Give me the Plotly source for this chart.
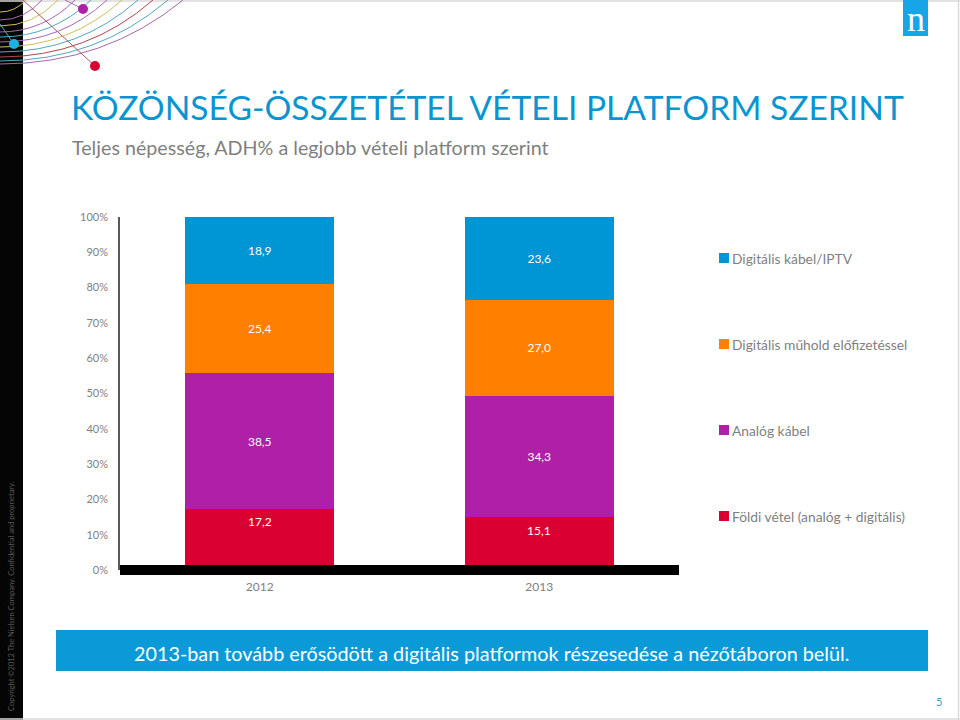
import plotly.graph_objects as go

YEARS = ["2012", "2013"]
FOLDI = [17.2, 15.1]
ANALOG = [38.5, 34.3]
MUHOLD = [25.4, 27.0]
KABEL = [18.9, 23.6]
FOLDI_LABEL_Y = [13.6, 11.1]
TICKS = [0, 10, 20, 30, 40, 50, 60, 70, 80, 90, 100]
NAMES = ["Földi vétel (analóg + digitális)", "Analóg kábel",
         "Digitális műhold előfizetéssel", "Digitális kábel/IPTV"]
COLORS = ["#DB0032", "#B01FA8", "#FF8000", "#0095D4"]

W, H = 960, 720
GREY = "#7F7F7F"
FONT = "Lato"


def px(x):
    return x / W


def py(y):
    return 1 - y / H


def rect(x0, y0, x1, y1, color, layer="below"):
    return dict(type="rect", xref="paper", yref="paper", x0=px(x0), x1=px(x1),
                y0=py(y1), y1=py(y0), fillcolor=color, line_width=0, layer=layer)


def seg(x0, y0, x1, y1, color, width=1):
    return dict(type="line", xref="paper", yref="paper", x0=px(x0), x1=px(x1),
                y0=py(y0), y1=py(y1), line=dict(color=color, width=width), layer="below")


def arc(x_top, y_left, color):
    cx = x_top * 0.575
    path = (f"M {px(0):.5f} {py(y_left):.5f} Q {px(cx):.5f} {py(y_left):.5f} "
            f"{px(x_top):.5f} {py(0):.5f}")
    return dict(type="path", xref="paper", yref="paper", path=path,
                line=dict(color=color, width=1), layer="below")


def dot(x, y, r, color):
    return dict(type="circle", xref="paper", yref="paper", x0=px(x - r), x1=px(x + r),
                y0=py(y + r), y1=py(y - r), fillcolor=color, line_width=0, layer="below")


def text(x, y, s, size, color, anchor="left", **kw):
    return dict(xref="paper", yref="paper", x=px(x), y=py(y), text=s, showarrow=False,
                xanchor=anchor, yanchor="middle", align=anchor,
                font=dict(family=FONT, size=size, color=color), **kw)


fig = go.Figure()
series = [FOLDI, ANALOG, MUHOLD, KABEL]
for i, (name, vals, col) in enumerate(zip(NAMES, series, COLORS)):
    fig.add_bar(x=YEARS, y=vals, name=name, marker=dict(color=col, line_width=0),
                width=0.533, showlegend=False,
                texttemplate="" if i == 0 else "%{y:.1f}",
                textposition="none" if i == 0 else "inside",
                insidetextanchor="middle", textangle=0, constraintext="none",
                insidetextfont=dict(family=FONT, size=12, color="#FFFFFF"),
                hoverinfo="x+y+name")

ARCS = [(183, 64, "#A566B0"), (168, 61, "#4FA8C0"), (153, 57, "#B0444F"),
        (138, 52, "#4FA8C0"), (122, 47, "#CDBE5A"), (107, 42, "#A566B0"),
        (91, 37, "#4FA8C0"), (75, 32, "#A566B0"), (58, 26, "#CDBE5A"),
        (42, 20, "#A566B0"), (26, 12, "#CDBE5A")]

shapes = [
    rect(0, 0, 23, H, "#050505"),
    seg(0, 1, W, 1, "#D9D9D9", 1.5),
    seg(958.5, 0, 958.5, H, "#D9D9D9", 1.5),
    seg(0, 719, W, 719, "#D9D9D9", 1.5),
]
shapes += [arc(x, y, c) for x, y, c in ARCS]
shapes += [
    seg(23, 0, 95, 66, "#A8555F"),
    seg(65, 0, 83, 9, "#A566B0"),
    seg(0, 24, 14, 44, "#4FA8C0"),
    dot(14, 44, 5, "#1FB0EC"),
    dot(83, 9, 5, "#B01FA8"),
    dot(95, 66, 5, "#DB0032"),
    rect(903, 0, 928, 36, "#16A5E6"),
    rect(56, 630, 928, 671, "#0A9AD8"),
    rect(120, 565, 679, 575, "#000000", layer="above"),
]

ann = [
    text(69, 107, "KÖZÖNSÉG-ÖSSZETÉTEL VÉTELI PLATFORM SZERINT", 33.6, "#0A95D0"),
    text(70, 148, "Teljes népesség, ADH% a legjobb vételi platform szerint", 19.7, "#7F7F7F"),
    text(492, 653, "2013-ban tovább erősödött a digitális platformok részesedése a nézőtáboron belül.",
         19.8, "#FFFFFF", "center"),
    text(939, 701, "5", 11, "#3C9CC0", "center"),
    dict(xref="paper", yref="paper", x=px(915.5), y=py(19), text="n", showarrow=False,
         xanchor="center", yanchor="middle",
         font=dict(family="Liberation Serif", size=36, color="#FFFFFF")),
    dict(xref="paper", yref="paper", x=px(11), y=py(596),
         text="Copyright ©2012 The Nielsen Company. Confidential and proprietary.",
         showarrow=False, textangle=-90, xanchor="center", yanchor="middle",
         font=dict(family=FONT, size=7.5, color="#5A5A5A")),
]
for i, (nm, col) in enumerate(zip(NAMES, COLORS)):
    yc = 516 - 86 * i
    ann.append(text(730, yc, nm, 13.8, GREY))
    shapes.append(rect(719, yc - 5, 729, yc + 5, col))
for idx, (v, ly) in enumerate(zip(FOLDI, FOLDI_LABEL_Y)):
    ann.append(dict(xref="x", yref="y", x=idx, y=ly, text=f"{v:.1f}".replace(".", ","),
                    showarrow=False, font=dict(family=FONT, size=12, color="#FFFFFF")))

fig.update_layout(
    width=W, height=H, margin=dict(l=0, r=0, t=0, b=0, autoexpand=False),
    paper_bgcolor="#FFFFFF", plot_bgcolor="rgba(0,0,0,0)",
    barmode="stack", separators=", ",
    font=dict(family=FONT, size=12, color=GREY),
    shapes=shapes, annotations=ann,
    xaxis=dict(type="category", categoryorder="array", categoryarray=YEARS, range=[-0.5, 1.5],
               domain=[px(120), px(679)], showgrid=False, zeroline=False,
               showline=False, ticks="", ticklabelstandoff=8,
               tickfont=dict(size=12, color=GREY)),
    yaxis=dict(domain=[py(570), py(217)], range=[0, 100], tickvals=TICKS,
               ticktext=[f"{t}%" for t in TICKS], showgrid=False, zeroline=False,
               showline=True, linecolor="#595959", linewidth=1.5,
               ticks="", ticklabelstandoff=8, tickfont=dict(size=11, color=GREY)),
)
fig.write_html("out.html", config=dict(displayModeBar=False),
               post_script="document.body.style.margin='0';")
